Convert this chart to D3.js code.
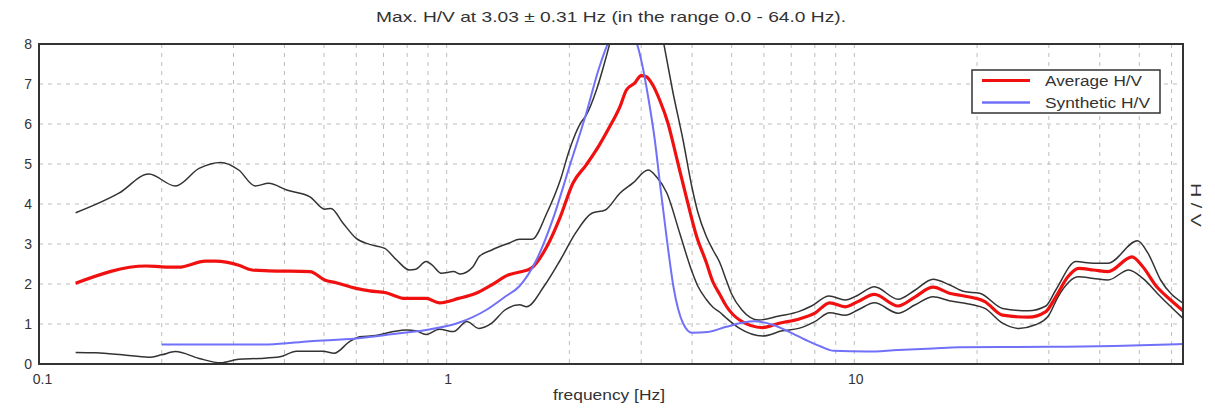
<!DOCTYPE html>
<html>
<head>
<meta charset="utf-8">
<script src="https://cdn.jsdelivr.net/npm/d3@7/dist/d3.min.js"></script>
<style>
  html, body { margin: 0; padding: 0; background: #fff; }
  svg { display: block; font-family: "Liberation Sans", Arial, sans-serif; }
</style>
</head>
<body>
<svg id="chart" width="1215" height="408"></svg>
<script>
// ---------------- DATA ----------------
const titleText = "Max. H/V at 3.03 \u00B1 0.31 Hz (in the range 0.0 - 64.0 Hz).";
const xLabel = "frequency [Hz]";
const yLabel = "H / V";
const legendLabels = ["Average H/V", "Synthetic H/V"];

const xDomain = [0.1, 64];
const yDomain = [0, 8];
const xTickValues = [0.1, 1, 10];
const xTickLabels = ["0.1", "1", "10"];
const yTickValues = [0, 1, 2, 3, 4, 5, 6, 7, 8];
const xGridValues = [0.2,0.3,0.4,0.5,0.6,0.7,0.8,0.9,1,2,3,4,5,6,7,8,9,10,20,30,40,50,60];
const yGridValues = [1, 2, 3, 4, 5, 6, 7];

// Average H/V (red)
const avgFreq = [0.123,0.183,0.2,0.22,0.256,0.271,0.309,0.333,0.366,0.462,0.502,0.536,0.6,0.647,0.71,0.79,0.89,0.96,1.07,1.18,1.29,1.42,1.51,1.61,1.76,1.9,2.04,2.2,2.37,2.51,2.66,2.76,2.89,3.0,3.09,3.2,3.33,3.49,3.66,3.87,4.1,4.33,4.5,4.67,4.85,5.23,5.96,6.54,7.3,8.0,8.7,9.5,10.2,11.2,12.8,14.1,15.6,17.1,18.6,20.9,23.1,26.7,29.5,31.2,33.4,35.5,38.6,41.9,48.0,51,55.2,59.7,64];
const avgVal  = [2.02,2.45,2.43,2.42,2.57,2.57,2.47,2.35,2.33,2.31,2.1,2.03,1.89,1.83,1.78,1.64,1.64,1.53,1.64,1.77,1.98,2.23,2.3,2.39,2.93,3.68,4.52,4.98,5.48,5.93,6.43,6.85,7.02,7.21,7.18,6.98,6.6,6.02,5.18,4.18,3.2,2.55,2.05,1.75,1.45,1.1,0.91,1.02,1.12,1.27,1.53,1.43,1.56,1.74,1.45,1.68,1.92,1.77,1.7,1.56,1.22,1.17,1.31,1.68,2.18,2.39,2.35,2.31,2.68,2.43,1.93,1.6,1.33];

// Average + std (upper black)
const upFreq = [0.123,0.157,0.186,0.216,0.247,0.279,0.309,0.339,0.366,0.405,0.462,0.502,0.52,0.557,0.6,0.647,0.705,0.754,0.81,0.84,0.89,0.92,0.97,1.04,1.08,1.16,1.2,1.29,1.42,1.51,1.62,1.76,1.9,2.0,2.13,2.2,2.33,2.5,2.75,3.0,3.2,3.42,3.58,3.8,4.0,4.13,4.33,4.5,4.67,4.85,5.0,5.3,5.83,6.54,7.3,7.85,8.67,9.5,10.2,11.2,12.8,14.1,15.6,17.1,18.6,20.3,23.1,26.7,29.5,31.2,35,38.6,41.9,49.5,52.5,56.4,64];
const upVal  = [3.78,4.27,4.75,4.45,4.89,5.04,4.85,4.45,4.52,4.35,4.18,3.87,3.89,3.52,3.14,2.99,2.89,2.6,2.35,2.37,2.56,2.48,2.27,2.31,2.25,2.43,2.68,2.85,3.02,3.12,3.12,3.77,4.6,5.35,6.02,6.22,6.85,7.93,9.6,10.5,9.6,7.93,6.85,5.6,4.4,3.8,3.2,2.85,2.55,2.1,1.75,1.35,1.1,1.2,1.31,1.45,1.7,1.6,1.72,1.93,1.62,1.85,2.12,1.98,1.81,1.77,1.39,1.33,1.45,1.85,2.56,2.52,2.52,3.08,2.77,2.1,1.52];

// Average - std (lower black)
const lowFreq = [0.123,0.138,0.16,0.186,0.2,0.216,0.247,0.279,0.309,0.348,0.39,0.428,0.497,0.53,0.578,0.612,0.67,0.74,0.797,0.84,0.89,0.96,1.04,1.12,1.2,1.29,1.39,1.51,1.57,1.73,1.9,2.07,2.27,2.45,2.66,2.86,3.12,3.27,3.47,3.73,4.0,4.13,4.33,4.5,4.67,4.85,5.23,5.96,6.66,7.3,8.0,8.7,9.5,10.2,11.2,12.8,14.1,15.6,17.1,19.5,20.9,23.1,25.3,27.8,30.0,31.6,35.5,38.6,41.9,47.1,51,56.4,64];
const lowVal  = [0.29,0.28,0.23,0.17,0.23,0.31,0.14,0.03,0.12,0.14,0.18,0.32,0.32,0.27,0.56,0.68,0.71,0.81,0.85,0.83,0.74,0.87,0.81,1.06,0.89,1.02,1.35,1.48,1.43,1.93,2.6,3.27,3.77,3.85,4.27,4.52,4.85,4.68,4.27,3.27,2.3,1.95,1.62,1.42,1.3,1.15,0.89,0.7,0.83,0.89,1.06,1.28,1.22,1.35,1.53,1.27,1.48,1.68,1.58,1.48,1.39,1.02,0.89,0.98,1.22,1.68,2.18,2.14,2.1,2.35,2.14,1.68,1.14];

// Synthetic H/V (blue)
const synFreq = [0.2,0.366,0.462,0.6,0.74,0.89,1.07,1.25,1.39,1.51,1.66,1.83,2.0,2.2,2.37,2.51,2.66,2.8,2.93,3.0,3.13,3.24,3.35,3.47,3.6,3.8,4.0,4.37,4.85,5.3,5.67,6.3,6.9,7.6,8.3,8.9,10.7,12.8,15.6,18.1,30,43.4,64];
const synVal  = [0.49,0.49,0.57,0.64,0.75,0.85,1.03,1.35,1.68,1.95,2.6,3.68,4.93,6.27,7.43,8.1,8.35,8.3,8.0,7.6,6.6,5.6,4.35,3.1,1.93,1.02,0.78,0.8,0.93,1.03,1.07,0.98,0.81,0.6,0.43,0.33,0.31,0.35,0.39,0.42,0.43,0.45,0.5];

// ---------------- DRAW ----------------
const svg = d3.select("#chart");
const plot = { left: 39, right: 1183, top: 44, bottom: 364 };

const x = d3.scaleLog().domain(xDomain).range([plot.left, plot.right]);
const y = d3.scaleLinear().domain(yDomain).range([plot.bottom, plot.top]);

const colors = { avg: "#f01010", std: "#333333", syn: "#7070f8", grid: "#bdbdbd", frame: "#333333", text: "#333333" };

svg.append("defs").append("clipPath").attr("id", "clip")
  .append("rect")
  .attr("x", plot.left).attr("y", plot.top)
  .attr("width", plot.right - plot.left).attr("height", plot.bottom - plot.top);

// grid
const grid = svg.append("g");
grid.selectAll("line.v").data(xGridValues).join("line")
  .attr("x1", d => x(d)).attr("x2", d => x(d))
  .attr("y1", plot.top).attr("y2", plot.bottom)
  .attr("stroke", colors.grid).attr("stroke-width", 1).attr("stroke-dasharray", "4,5");
grid.selectAll("line.h").data(yGridValues).join("line")
  .attr("y1", d => y(d)).attr("y2", d => y(d))
  .attr("x1", plot.left).attr("x2", plot.right)
  .attr("stroke", colors.grid).attr("stroke-width", 1).attr("stroke-dasharray", "4,5");

// curves
const lineSmooth = d3.line().x(d => x(d[0])).y(d => y(d[1])).curve(d3.curveMonotoneX);
const zip = (a, b) => a.map((v, i) => [v, b[i]]);

const curves = svg.append("g").attr("clip-path", "url(#clip)");
curves.append("path").datum(zip(upFreq, upVal)).attr("d", lineSmooth)
  .attr("fill", "none").attr("stroke", colors.std).attr("stroke-width", 1.5);
curves.append("path").datum(zip(lowFreq, lowVal)).attr("d", lineSmooth)
  .attr("fill", "none").attr("stroke", colors.std).attr("stroke-width", 1.5);
curves.append("path").datum(zip(avgFreq, avgVal)).attr("d", lineSmooth)
  .attr("fill", "none").attr("stroke", colors.avg).attr("stroke-width", 3.2).attr("stroke-linejoin", "round");
curves.append("path").datum(zip(synFreq, synVal)).attr("d", lineSmooth)
  .attr("fill", "none").attr("stroke", colors.syn).attr("stroke-width", 2).attr("stroke-linejoin", "round");

// frame
svg.append("rect")
  .attr("x", plot.left).attr("y", plot.top)
  .attr("width", plot.right - plot.left).attr("height", plot.bottom - plot.top)
  .attr("fill", "none").attr("stroke", colors.frame).attr("stroke-width", 2);

// y tick labels
const yAxis = d3.axisLeft(y).tickValues(yTickValues).tickSize(0).tickPadding(7).tickFormat(d3.format("d"));
const gy = svg.append("g").attr("transform", `translate(${plot.left},0)`).call(yAxis);
gy.select(".domain").remove();
gy.selectAll("text").attr("font-size", 14).attr("fill", colors.text)
  .attr("font-family", "'Liberation Sans', Arial, sans-serif");

// x tick labels
const xAxis = d3.axisBottom(x).tickValues(xTickValues).tickSize(0).tickPadding(10)
  .tickFormat((d, i) => xTickLabels[i]);
const gx = svg.append("g").attr("transform", `translate(0,${plot.bottom})`).call(xAxis);
gx.select(".domain").remove();
gx.selectAll("text").attr("font-size", 14).attr("fill", colors.text)
  .attr("font-family", "'Liberation Sans', Arial, sans-serif")
  .attr("dx", (d, i) => i === 0 ? 3 : 1);

// title
svg.append("text").attr("x", 611).attr("y", 22).attr("text-anchor", "middle")
  .attr("font-size", 15).attr("fill", colors.text)
  .attr("textLength", 470).attr("lengthAdjust", "spacingAndGlyphs")
  .text(titleText);

// x label
svg.append("text").attr("x", 609).attr("y", 400).attr("text-anchor", "middle")
  .attr("font-size", 15).attr("fill", colors.text)
  .attr("textLength", 112).attr("lengthAdjust", "spacingAndGlyphs")
  .text(xLabel);

// y label (right, rotated)
svg.append("text")
  .attr("transform", "translate(1191,205) rotate(90)")
  .attr("text-anchor", "middle")
  .attr("font-size", 15).attr("fill", colors.text)
  .attr("textLength", 44).attr("lengthAdjust", "spacingAndGlyphs")
  .text(yLabel);

// legend
const lg = svg.append("g");
lg.append("rect").attr("x", 972).attr("y", 70).attr("width", 188).attr("height", 43)
  .attr("fill", "#fff").attr("stroke", colors.frame).attr("stroke-width", 1.5);
const legendColors = [colors.avg, colors.syn];
const legendWidths = [3.2, 2.5];
const legendTextLen = [97, 105];
legendLabels.forEach((lab, i) => {
  const cy = 80.5 + i * 22;
  lg.append("line").attr("x1", 982).attr("x2", 1030).attr("y1", cy).attr("y2", cy)
    .attr("stroke", legendColors[i]).attr("stroke-width", legendWidths[i]);
  lg.append("text").attr("x", 1045).attr("y", cy + 5).attr("font-size", 14).attr("fill", colors.text)
    .attr("textLength", legendTextLen[i]).attr("lengthAdjust", "spacingAndGlyphs")
    .text(lab);
});
</script>
</body>
</html>
